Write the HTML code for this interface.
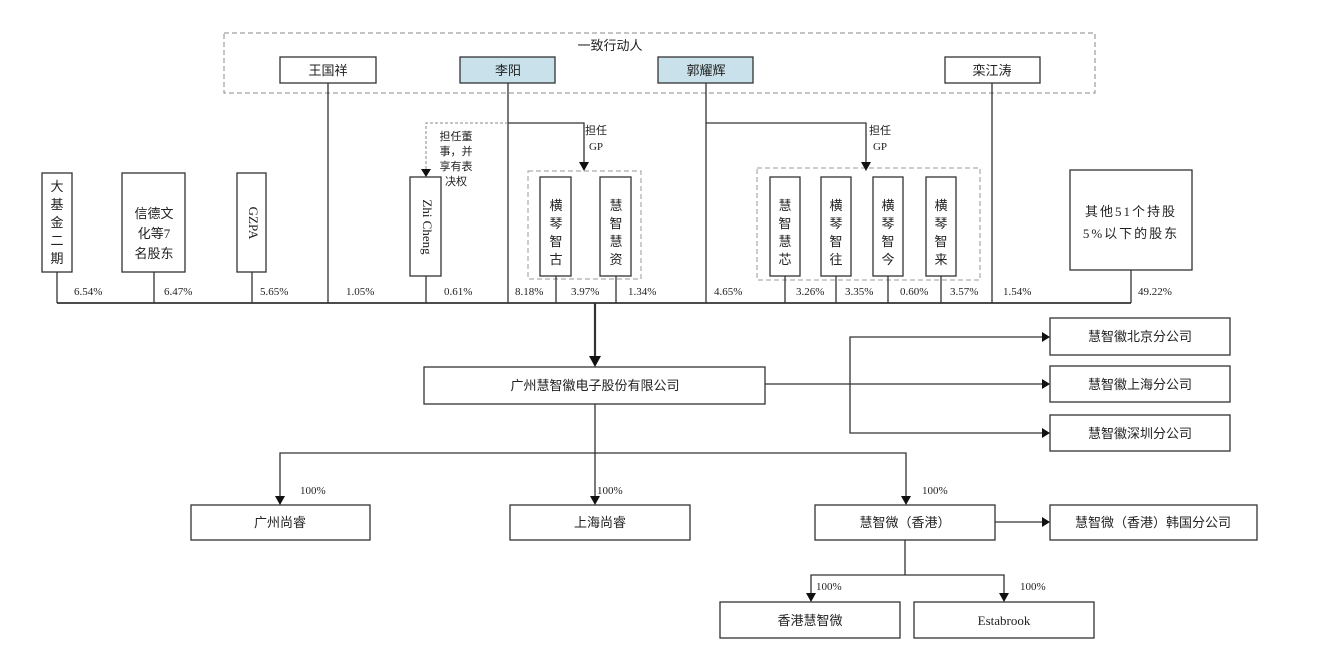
<!DOCTYPE html>
<html><head><meta charset="utf-8"><style>
html,body{margin:0;padding:0;background:#fff;}
svg{display:block;}
text{font-family:"Liberation Serif","Noto Sans CJK SC",serif;fill:#222;}
.c{font-family:"Liberation Sans","Noto Sans CJK SC",sans-serif;font-size:13px;}
.p{font-size:11px;font-family:"Liberation Serif",serif;}
</style></head><body>
<svg width="1341" height="652" viewBox="0 0 1341 652" xmlns="http://www.w3.org/2000/svg">
<g fill="none" stroke="#333" stroke-width="1.3">
<rect x="224" y="33" width="871" height="60" stroke="#888" stroke-dasharray="5,3" stroke-width="1"/>
<rect x="280" y="57" width="96" height="26" fill="#fff"/>
<rect x="460" y="57" width="95" height="26" fill="#c8e1ea"/>
<rect x="658" y="57" width="95" height="26" fill="#c8e1ea"/>
<rect x="945" y="57" width="95" height="26" fill="#fff"/>
<line x1="328" y1="83" x2="328" y2="303"/>
<line x1="508" y1="83" x2="508" y2="303"/>
<line x1="706" y1="83" x2="706" y2="303"/>
<line x1="992" y1="83" x2="992" y2="303"/>
<polyline points="508,123 584,123 584,162"/>
<polyline points="706,123 866,123 866,162"/>
<polyline points="508,123 426,123 426,170" stroke="#888" stroke-dasharray="3,2" stroke-width="1"/>
<rect x="528" y="171" width="113" height="108" stroke="#999" stroke-dasharray="5,3" stroke-width="1"/>
<rect x="757" y="168" width="223" height="112" stroke="#999" stroke-dasharray="5,3" stroke-width="1"/>
<rect x="42" y="173" width="30" height="99"/>
<rect x="122" y="173" width="63" height="99"/>
<rect x="237" y="173" width="29" height="99"/>
<rect x="410" y="177" width="31" height="99"/>
<rect x="540" y="177" width="31" height="99"/>
<rect x="600" y="177" width="31" height="99"/>
<rect x="770" y="177" width="30" height="99"/>
<rect x="821" y="177" width="30" height="99"/>
<rect x="873" y="177" width="30" height="99"/>
<rect x="926" y="177" width="30" height="99"/>
<rect x="1070" y="170" width="122" height="100"/>
<line x1="57" y1="272" x2="57" y2="303"/>
<line x1="154" y1="272" x2="154" y2="303"/>
<line x1="252" y1="272" x2="252" y2="303"/>
<line x1="426" y1="276" x2="426" y2="303"/>
<line x1="556" y1="276" x2="556" y2="303"/>
<line x1="616" y1="276" x2="616" y2="303"/>
<line x1="785" y1="276" x2="785" y2="303"/>
<line x1="836" y1="276" x2="836" y2="303"/>
<line x1="888" y1="276" x2="888" y2="303"/>
<line x1="941" y1="276" x2="941" y2="303"/>
<line x1="1131" y1="270" x2="1131" y2="303"/>
<line x1="57" y1="303" x2="1131" y2="303" stroke-width="1.8"/>
<line x1="595" y1="303" x2="595" y2="358" stroke-width="2.2"/>
<rect x="424" y="367" width="341" height="37"/>
<line x1="765" y1="384" x2="1042" y2="384"/>
<polyline points="1042,337 850,337 850,433 1042,433"/>
<rect x="1050" y="318" width="180" height="37"/>
<rect x="1050" y="366" width="180" height="36"/>
<rect x="1050" y="415" width="180" height="36"/>
<line x1="595" y1="404" x2="595" y2="497"/>
<polyline points="280,497 280,453 906,453 906,497"/>
<rect x="191" y="505" width="179" height="35"/>
<rect x="510" y="505" width="180" height="35"/>
<rect x="815" y="505" width="180" height="35"/>
<line x1="995" y1="522" x2="1042" y2="522"/>
<rect x="1050" y="505" width="207" height="35"/>
<line x1="905" y1="540" x2="905" y2="575"/>
<polyline points="811,594 811,575 1004,575 1004,594"/>
<rect x="720" y="602" width="180" height="36"/>
<rect x="914" y="602" width="180" height="36"/>
</g>
<g fill="#111">
<path d="M579,162 L589,162 L584,171 Z"/>
<path d="M861,162 L871,162 L866,171 Z"/>
<path d="M421,169 L431,169 L426,177 Z"/>
<path d="M589,356 L601,356 L595,367 Z"/>
<path d="M1042,332 L1050,337 L1042,342 Z"/>
<path d="M1042,379 L1050,384 L1042,389 Z"/>
<path d="M1042,428 L1050,433 L1042,438 Z"/>
<path d="M1042,517 L1050,522 L1042,527 Z"/>
<path d="M275,496 L285,496 L280,505 Z"/>
<path d="M590,496 L600,496 L595,505 Z"/>
<path d="M901,496 L911,496 L906,505 Z"/>
<path d="M806,593 L816,593 L811,602 Z"/>
<path d="M999,593 L1009,593 L1004,602 Z"/>
</g>
<g class="c">
<text x="610" y="50" text-anchor="middle">一致行动人</text>
<text x="328" y="75" text-anchor="middle">王国祥</text>
<text x="508" y="75" text-anchor="middle">李阳</text>
<text x="706" y="75" text-anchor="middle">郭耀辉</text>
<text x="992" y="75" text-anchor="middle">栾江涛</text>
<text x="596" y="134" text-anchor="middle" font-size="11">担任</text>
<text x="596" y="150" text-anchor="middle" font-size="11">GP</text>
<text x="880" y="134" text-anchor="middle" font-size="11">担任</text>
<text x="880" y="150" text-anchor="middle" font-size="11">GP</text>
<g font-size="11" text-anchor="middle">
<text x="456" y="140">担任董</text><text x="456" y="155">事，并</text><text x="456" y="170">享有表</text><text x="456" y="185">决权</text>
</g>
<g text-anchor="middle">
<text x="57" y="191">大</text><text x="57" y="209">基</text><text x="57" y="227">金</text><text x="57" y="245">二</text><text x="57" y="263">期</text>
<text x="154" y="218">信德文</text><text x="154" y="238">化等7</text><text x="154" y="258">名股东</text>
<text x="556" y="210">横</text><text x="556" y="228">琴</text><text x="556" y="246">智</text><text x="556" y="264">古</text>
<text x="616" y="210">慧</text><text x="616" y="228">智</text><text x="616" y="246">慧</text><text x="616" y="264">资</text>
<text x="785" y="210">慧</text><text x="785" y="228">智</text><text x="785" y="246">慧</text><text x="785" y="264">芯</text>
<text x="836" y="210">横</text><text x="836" y="228">琴</text><text x="836" y="246">智</text><text x="836" y="264">往</text>
<text x="888" y="210">横</text><text x="888" y="228">琴</text><text x="888" y="246">智</text><text x="888" y="264">今</text>
<text x="941" y="210">横</text><text x="941" y="228">琴</text><text x="941" y="246">智</text><text x="941" y="264">来</text>
<text x="1131" y="216" letter-spacing="2">其他51个持股</text>
<text x="1131" y="238" letter-spacing="2">5%以下的股东</text>
<text x="595" y="390">广州慧智徽电子股份有限公司</text>
<text x="1140" y="341">慧智徽北京分公司</text>
<text x="1140" y="389">慧智徽上海分公司</text>
<text x="1140" y="438">慧智徽深圳分公司</text>
<text x="280" y="527">广州尚睿</text>
<text x="600" y="527">上海尚睿</text>
<text x="905" y="527">慧智微（香港）</text>
<text x="1153" y="527">慧智微（香港）韩国分公司</text>
<text x="810" y="625">香港慧智微</text>
</g>
</g>
<text x="252" y="223" font-size="13" text-anchor="middle" transform="rotate(90 252 223)" dominant-baseline="middle">GZPA</text>
<text x="426" y="227" font-size="13" text-anchor="middle" transform="rotate(90 426 227)" dominant-baseline="middle">Zhi Cheng</text>
<text x="1004" y="625" font-size="13" text-anchor="middle">Estabrook</text>
<g class="p">
<text x="74" y="295">6.54%</text><text x="164" y="295">6.47%</text><text x="260" y="295">5.65%</text>
<text x="346" y="295">1.05%</text><text x="444" y="295">0.61%</text><text x="515" y="295">8.18%</text>
<text x="571" y="295">3.97%</text><text x="628" y="295">1.34%</text><text x="714" y="295">4.65%</text>
<text x="796" y="295">3.26%</text><text x="845" y="295">3.35%</text><text x="900" y="295">0.60%</text>
<text x="950" y="295">3.57%</text><text x="1003" y="295">1.54%</text><text x="1138" y="295">49.22%</text>
<text x="300" y="494">100%</text><text x="597" y="494">100%</text><text x="922" y="494">100%</text>
<text x="816" y="590">100%</text><text x="1020" y="590">100%</text>
</g>
</svg>
</body></html>
